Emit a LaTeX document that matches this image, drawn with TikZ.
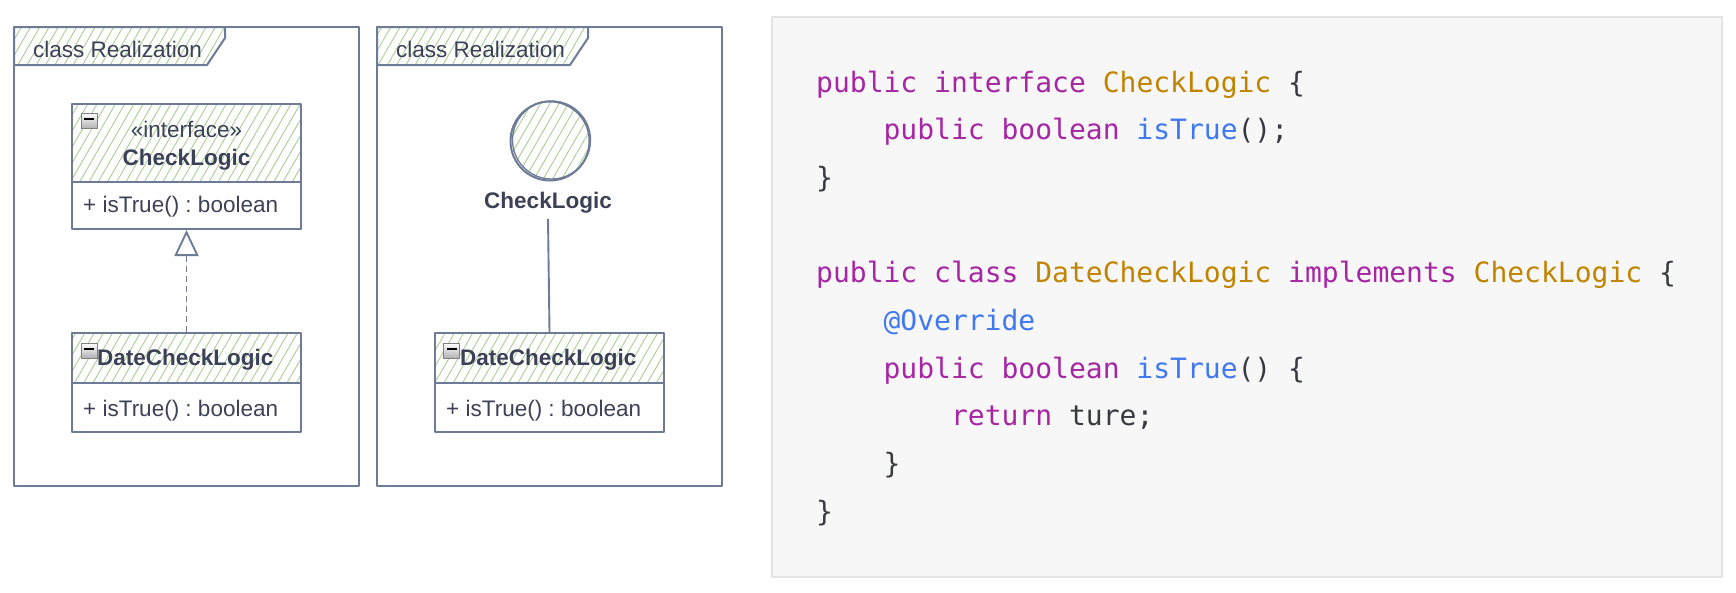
\documentclass[tikz,border=0pt]{standalone}
\usepackage{fontspec}
\setmainfont{Liberation Sans}
\newfontfamily\codefont{DejaVu Sans Mono}
\usetikzlibrary{patterns.meta,arrows.meta}
\frenchspacing
\definecolor{stroke}{HTML}{6D7B96}
\definecolor{txt}{HTML}{3D4158}
\definecolor{hatch}{HTML}{A9CF95}
\definecolor{panelbg}{HTML}{F7F7F7}
\definecolor{panelline}{HTML}{E4E4E4}
\definecolor{kwc}{HTML}{A626A4}
\definecolor{tyc}{HTML}{C18401}
\definecolor{fnc}{HTML}{4078F2}
\definecolor{plc}{HTML}{383A42}
\newcommand{\kw}[1]{\textcolor{kwc}{#1}}
\newcommand{\ty}[1]{\textcolor{tyc}{#1}}
\newcommand{\fn}[1]{\textcolor{fnc}{#1}}
\newcommand{\pl}[1]{\textcolor{plc}{#1}}
\tikzset{
  hatched/.style={pattern={Lines[angle=60,distance=8pt,line width=0.9pt]}, pattern color=hatch},
  umlline/.style={draw=stroke, line width=2pt, line join=round},
  framebox/.style={umlline, inner sep=0pt, minimum width=345pt, minimum height=459pt},
  tabshape/.style={umlline, hatched},
  hdrbox/.style={umlline, hatched, inner sep=0pt, minimum width=229pt},
  bodybox/.style={umlline, fill=white, inner sep=0pt, minimum width=229pt, minimum height=49pt},
  lbl/.style={text=txt, font=\fontsize{22.5}{22.5}\selectfont, inner sep=0pt},
  blbl/.style={lbl, font=\fontsize{22.5}{22.5}\selectfont\bfseries},
  collapsebox/.style={draw=gray, line width=0.8pt, top color=white, bottom color=gray!60, inner sep=0pt, minimum width=16pt, minimum height=15pt},
  minusbar/.style={draw=black, line width=2pt},
  realize/.style={draw=stroke, line width=1.9pt, dash pattern=on 6pt off 4pt, -{Triangle[open, length=26pt, width=24pt]}},
  assoc/.style={draw=stroke, line width=1.9pt},
  codeline/.style={anchor=base west, inner sep=0pt, font=\codefont\fontsize{28}{28}\selectfont, text=plc},
}
\begin{document}
\begin{tikzpicture}[x=1pt, y=-1pt]
\useasboundingbox[fill=white] (0,0) rectangle (1736,592);

% ---------- Frame 1 ----------
\node[framebox] (f1) at (186.5,256.5) {};
\draw[tabshape] (14,27) -- (225,27) -- (225,38) -- (207,65) -- (14,65) -- cycle;
\node[lbl, anchor=base west] (t1) at (33,57) {class Realization};

\node[hdrbox, minimum height=78pt] (ifh) at (186.5,143) {};
\node[bodybox, minimum height=47pt] (ifb) at (186.5,205.5) {};
\node[lbl, anchor=base] (ifst) at (186.5,137) {«interface»};
\node[blbl, anchor=base] (ifname) at (186.5,165) {CheckLogic};
\node[lbl, anchor=base west] (ifop) at (83,212) {+ isTrue() : boolean};
\node[collapsebox] (m1) at (89,120.5) {};
\draw[minusbar] ([xshift=-5pt,yshift=1.5pt]m1.center) -- ([xshift=5pt,yshift=1.5pt]m1.center);

\node[hdrbox, minimum height=50pt] (dch) at (186.5,358) {};
\node[bodybox] (dcb) at (186.5,407.5) {};
\node[blbl, anchor=base west] (dcname) at (97,365) {DateCheckLogic};
\node[lbl, anchor=base west] (dcop) at (83,416) {+ isTrue() : boolean};
\node[collapsebox] (m2) at (89,350.5) {};
\draw[minusbar] ([xshift=-5pt,yshift=1.5pt]m2.center) -- ([xshift=5pt,yshift=1.5pt]m2.center);

\draw[realize] (dch.north) -- (ifb.south);

% ---------- Frame 2 ----------
\node[framebox] (f2) at (549.5,256.5) {};
\draw[tabshape] (377,27) -- (588,27) -- (588,38) -- (570,65) -- (377,65) -- cycle;
\node[lbl, anchor=base west] (t2) at (396,57) {class Realization};

\node[circle, umlline, hatched, minimum size=79pt, inner sep=0pt] (ci) at (550,141) {};
\draw[draw=stroke, line width=1.3pt] (551.5,140) circle (39pt);
\node[blbl, anchor=base] (ciname) at (548,208) {CheckLogic};

\node[hdrbox, minimum height=50pt] (dch2) at (549.5,358) {};
\node[bodybox] (dcb2) at (549.5,407.5) {};
\node[blbl, anchor=base west] (dcname2) at (460,365) {DateCheckLogic};
\node[lbl, anchor=base west] (dcop2) at (446,416) {+ isTrue() : boolean};
\node[collapsebox] (m3) at (451.5,350.5) {};
\draw[minusbar] ([xshift=-5pt,yshift=1.5pt]m3.center) -- ([xshift=5pt,yshift=1.5pt]m3.center);

\coordinate (cibot) at ([yshift=-6pt]ciname.south);
\draw[assoc] (cibot) -- (dch2.north);

% ---------- Code panel ----------
\node[draw=panelline, fill=panelbg, line width=1.5pt, inner sep=0pt, minimum width=950pt, minimum height=560pt] (panel) at (1247,297) {};
\node[codeline] (c1) at (816,92) {\kw{public} \kw{interface} \ty{CheckLogic} \{};
\node[codeline] (c2) at (883.4,139.7) {\kw{public} \kw{boolean} \fn{isTrue}();};
\node[codeline] (c3) at (816,187.4) {\}};
\node[codeline] (c5) at (816,282.8) {\kw{public} \kw{class} \ty{DateCheckLogic} \kw{implements} \ty{CheckLogic} \{};
\node[codeline] (c6) at (883.4,330.5) {\fn{@Override}};
\node[codeline] (c7) at (883.4,378.2) {\kw{public} \kw{boolean} \fn{isTrue}() \{};
\node[codeline] (c8) at (950.9,425.9) {\kw{return} ture;};
\node[codeline] (c9) at (883.4,473.6) {\}};
\node[codeline] (c10) at (816,521.3) {\}};
\end{tikzpicture}
\end{document}
